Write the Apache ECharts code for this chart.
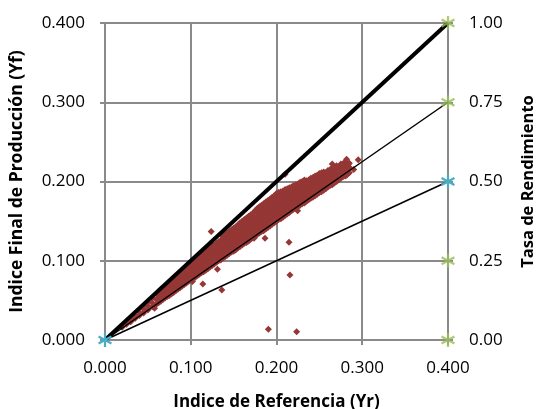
<!DOCTYPE html>
<html>
<head>
<meta charset="utf-8">
<script src="https://cdn.jsdelivr.net/npm/echarts@6/dist/echarts.min.js"></script>
<style>
html,body{margin:0;padding:0;background:#fff;}
#chart{width:540px;height:409px;}
</style>
</head>
<body>
<div id="chart"></div>
<script>
// ---- data ----
const xTicks = [0.0, 0.1, 0.2, 0.3, 0.4];
const leftTicks = [0.0, 0.1, 0.2, 0.3, 0.4];
const rightTicks = [0.0, 0.25, 0.5, 0.75, 1.0];

// measured points grouped by Yr value: [Yr, [Yf ...]]
const bandRows = [
  [0.020, [0.016]],
  [0.025, [0.020]],
  [0.030, [0.023, 0.027]],
  [0.035, [0.027, 0.031]],
  [0.040, [0.031, 0.035]],
  [0.045, [0.034, 0.039, 0.043]],
  [0.050, [0.038, 0.043, 0.048]],
  [0.055, [0.042, 0.047, 0.053]],
  [0.060, [0.045, 0.051, 0.058]],
  [0.065, [0.049, 0.055, 0.061, 0.064]],
  [0.070, [0.053, 0.058, 0.064, 0.068]],
  [0.075, [0.056, 0.062, 0.068, 0.073]],
  [0.080, [0.060, 0.066, 0.072, 0.078]],
  [0.085, [0.064, 0.070, 0.076, 0.083]],
  [0.090, [0.068, 0.074, 0.080, 0.087]],
  [0.095, [0.072, 0.078, 0.084, 0.091]],
  [0.100, [0.076, 0.081, 0.087, 0.093, 0.098]],
  [0.105, [0.079, 0.085, 0.091, 0.097, 0.102]],
  [0.110, [0.083, 0.088, 0.094, 0.100, 0.106]],
  [0.115, [0.086, 0.092, 0.098, 0.104, 0.110]],
  [0.120, [0.090, 0.096, 0.102, 0.108, 0.114]],
  [0.125, [0.094, 0.099, 0.105, 0.111, 0.119]],
  [0.130, [0.098, 0.103, 0.109, 0.115, 0.122]],
  [0.135, [0.101, 0.107, 0.113, 0.119, 0.126]],
  [0.140, [0.105, 0.110, 0.116, 0.122, 0.128, 0.133]],
  [0.145, [0.109, 0.114, 0.120, 0.126, 0.132, 0.137]],
  [0.150, [0.112, 0.118, 0.124, 0.130, 0.136, 0.141]],
  [0.155, [0.116, 0.122, 0.128, 0.134, 0.140, 0.145]],
  [0.160, [0.120, 0.125, 0.131, 0.137, 0.143, 0.150]],
  [0.165, [0.123, 0.129, 0.135, 0.141, 0.147, 0.154]],
  [0.170, [0.127, 0.133, 0.139, 0.145, 0.151, 0.158]],
  [0.175, [0.131, 0.136, 0.142, 0.148, 0.155, 0.163]],
  [0.180, [0.135, 0.140, 0.146, 0.152, 0.158, 0.164, 0.168]],
  [0.185, [0.138, 0.144, 0.150, 0.156, 0.162, 0.168, 0.172]],
  [0.190, [0.142, 0.147, 0.153, 0.159, 0.165, 0.171, 0.176]],
  [0.195, [0.146, 0.151, 0.157, 0.163, 0.169, 0.175, 0.180]],
  [0.200, [0.150, 0.155, 0.161, 0.167, 0.173, 0.179, 0.185]],
  [0.205, [0.153, 0.159, 0.165, 0.171, 0.177, 0.183, 0.187]],
  [0.210, [0.157, 0.162, 0.168, 0.174, 0.180, 0.185, 0.190]],
  [0.215, [0.161, 0.166, 0.172, 0.178, 0.183, 0.188, 0.192]],
  [0.220, [0.165, 0.170, 0.175, 0.181, 0.186, 0.191, 0.195]],
  [0.225, [0.168, 0.173, 0.179, 0.184, 0.189, 0.194, 0.197]],
  [0.230, [0.172, 0.177, 0.182, 0.187, 0.192, 0.197, 0.200]],
  [0.235, [0.175, 0.180, 0.186, 0.191, 0.196, 0.201]],
  [0.240, [0.179, 0.184, 0.189, 0.194, 0.199, 0.204]],
  [0.245, [0.182, 0.187, 0.192, 0.197, 0.202, 0.207]],
  [0.250, [0.186, 0.191, 0.196, 0.201, 0.206, 0.210]],
  [0.255, [0.189, 0.194, 0.199, 0.204, 0.209, 0.212]],
  [0.260, [0.193, 0.198, 0.203, 0.208, 0.214]],
  [0.265, [0.196, 0.201, 0.206, 0.211, 0.217]],
  [0.270, [0.200, 0.205, 0.210, 0.215, 0.220]],
  [0.275, [0.204, 0.210, 0.216, 0.222]],
  [0.280, [0.207, 0.213, 0.219, 0.225]],
  [0.285, [0.211, 0.218, 0.223]],
  [0.290, [0.215]]
];

// second pass of measured points between the rows above
const bandRowsMid = [
  [0.0625, [0.047, 0.053, 0.060]],
  [0.0675, [0.051, 0.057, 0.063]],
  [0.0725, [0.055, 0.060, 0.066, 0.070]],
  [0.0775, [0.058, 0.064, 0.070, 0.075]],
  [0.0825, [0.062, 0.068, 0.074, 0.080]],
  [0.0875, [0.066, 0.072, 0.078, 0.085]],
  [0.0925, [0.070, 0.076, 0.082, 0.089]],
  [0.0975, [0.074, 0.079, 0.085, 0.092, 0.096]],
  [0.1025, [0.078, 0.083, 0.089, 0.095, 0.100]],
  [0.1075, [0.081, 0.087, 0.093, 0.099, 0.104]],
  [0.1125, [0.085, 0.090, 0.096, 0.102, 0.108]],
  [0.1175, [0.088, 0.094, 0.100, 0.106, 0.112]],
  [0.1225, [0.092, 0.098, 0.104, 0.110, 0.116]],
  [0.1275, [0.096, 0.101, 0.107, 0.113, 0.120]],
  [0.1325, [0.100, 0.105, 0.111, 0.117, 0.124]],
  [0.1375, [0.103, 0.109, 0.115, 0.121, 0.127, 0.131]],
  [0.1425, [0.107, 0.112, 0.118, 0.124, 0.130, 0.135]],
  [0.1475, [0.111, 0.116, 0.122, 0.128, 0.134, 0.139]],
  [0.1525, [0.114, 0.120, 0.126, 0.132, 0.138, 0.143]],
  [0.1575, [0.118, 0.124, 0.130, 0.136, 0.142, 0.148]],
  [0.1625, [0.122, 0.127, 0.133, 0.139, 0.145, 0.152]],
  [0.1675, [0.125, 0.131, 0.137, 0.143, 0.149, 0.156]],
  [0.1725, [0.129, 0.135, 0.141, 0.147, 0.153, 0.160]],
  [0.1775, [0.133, 0.138, 0.144, 0.150, 0.156, 0.162, 0.166]],
  [0.1825, [0.137, 0.142, 0.148, 0.154, 0.160, 0.166, 0.170]],
  [0.1875, [0.140, 0.145, 0.151, 0.157, 0.163, 0.169, 0.174]],
  [0.1925, [0.144, 0.149, 0.155, 0.161, 0.167, 0.173, 0.178]],
  [0.1975, [0.148, 0.153, 0.159, 0.165, 0.171, 0.177, 0.182]],
  [0.2025, [0.152, 0.157, 0.163, 0.169, 0.175, 0.181, 0.186]],
  [0.2075, [0.155, 0.160, 0.166, 0.172, 0.178, 0.184, 0.188]],
  [0.2125, [0.159, 0.164, 0.170, 0.176, 0.181, 0.186, 0.191]],
  [0.2175, [0.163, 0.168, 0.173, 0.179, 0.184, 0.189, 0.193]],
  [0.2225, [0.166, 0.171, 0.177, 0.182, 0.187, 0.192, 0.196]],
  [0.2275, [0.170, 0.175, 0.180, 0.185, 0.190, 0.195, 0.199]],
  [0.2325, [0.173, 0.178, 0.184, 0.189, 0.194, 0.199, 0.202]],
  [0.2375, [0.177, 0.182, 0.187, 0.192, 0.197, 0.202]],
  [0.2425, [0.180, 0.185, 0.190, 0.195, 0.200, 0.205]],
  [0.2475, [0.184, 0.189, 0.194, 0.199, 0.204, 0.208]],
  [0.2525, [0.187, 0.192, 0.197, 0.202, 0.207, 0.211]],
  [0.2575, [0.191, 0.196, 0.201, 0.206, 0.211]],
  [0.2625, [0.195, 0.200, 0.205, 0.210, 0.215]],
  [0.2675, [0.198, 0.203, 0.208, 0.213, 0.218]],
  [0.2725, [0.202, 0.207, 0.212, 0.218]],
  [0.2775, [0.206, 0.211, 0.217, 0.222]],
  [0.2825, [0.209, 0.215, 0.221]]
];

// isolated points
const outlierPoints = [
  [0.1905, 0.0135], [0.2235, 0.0105], [0.2157, 0.0821], [0.2146, 0.1234],
  [0.1362, 0.0632], [0.1311, 0.0893], [0.1141, 0.0707], [0.1238, 0.1368],
  [0.0578, 0.0400], [0.1020, 0.0737], [0.1866, 0.1284], [0.1738, 0.1284],
  [0.2246, 0.1630], [0.2953, 0.2274], [0.2817, 0.2282], [0.2836, 0.2220],
  [0.2817, 0.2080], [0.2650, 0.2220], [0.2100, 0.2090], [0.1517, 0.1137]
];

// performance-ratio reference lines (right axis units)
const prLine100 = [[0, 0], [0.4, 1.00]];
const prLine75 = [[0, 0], [0.4, 0.75]];
const prLine50 = [[0, 0], [0.4, 0.50]];
const greenMarks = [[0.4, 1.00], [0.4, 0.75], [0.4, 0.25], [0.4, 0.00]];

// ---- build chart ----
const scatterData = [];
bandRows.forEach(r => r[1].forEach(y => scatterData.push([r[0], y])));
bandRowsMid.forEach(r => r[1].forEach(y => scatterData.push([r[0], y])));
outlierPoints.forEach(p => scatterData.push(p));

const FONT = 'Open Sans';
const GRID = '#8a8a8a';
const star = 'path://M8.5,0 L11.5,0 L11.5,20 L8.5,20 Z M2.09,3.7 L19.41,13.7 L17.91,16.3 L0.59,6.3 Z M0.59,13.7 L17.91,3.7 L19.41,6.3 L2.09,16.3 Z';

const chart = echarts.init(document.getElementById('chart'), null, {renderer: 'canvas'});
chart.setOption({
  animation: false,
  backgroundColor: '#fff',
  grid: {left: 105, right: 92, top: 23, bottom: 69, containLabel: false, outerBoundsMode: 'none'},
  xAxis: {
    type: 'value', min: 0, max: 0.4, interval: 0.1,
    name: 'Indice de Referencia (Yr)', nameLocation: 'middle', nameGap: 54,
    nameTextStyle: {fontFamily: FONT, fontSize: 17, fontWeight: 'bold', color: '#000'},
    axisLine: {show: true, lineStyle: {color: GRID, width: 2}},
    axisTick: {show: true, length: 5, lineStyle: {color: GRID, width: 2}},
    axisLabel: {fontFamily: FONT, fontSize: 17, color: '#000', margin: 20, formatter: v => v.toFixed(3)},
    splitLine: {show: true, lineStyle: {color: GRID, width: 2}}
  },
  yAxis: [{
    type: 'value', min: 0, max: 0.4, interval: 0.1, position: 'left',
    name: 'Indice Final de Producción (Yf)', nameLocation: 'middle', nameGap: 79, nameRotate: 90,
    nameTextStyle: {fontFamily: FONT, fontSize: 17.5, fontWeight: 'bold', color: '#000'},
    axisLine: {show: true, lineStyle: {color: GRID, width: 2}},
    axisTick: {show: true, length: 5, lineStyle: {color: GRID, width: 2}},
    axisLabel: {fontFamily: FONT, fontSize: 17, color: '#000', margin: 20, formatter: v => v.toFixed(3)},
    splitLine: {show: true, lineStyle: {color: GRID, width: 2}}
  }, {
    type: 'value', min: 0, max: 1, interval: 0.25, position: 'right',
    name: 'Tasa de Rendimiento', nameLocation: 'middle', nameGap: 72, nameRotate: 90,
    nameTextStyle: {fontFamily: FONT, fontSize: 16.5, fontWeight: 'bold', color: '#000'},
    axisLine: {show: true, lineStyle: {color: GRID, width: 2}},
    axisTick: {show: true, length: 5, lineStyle: {color: GRID, width: 2}},
    axisLabel: {fontFamily: FONT, fontSize: 17, color: '#000', margin: 21, formatter: v => v.toFixed(2)},
    splitLine: {show: false}
  }],
  series: [
    {type: 'scatter', xAxisIndex: 0, yAxisIndex: 0, data: scatterData,
     symbol: 'diamond', symbolSize: 7, itemStyle: {color: '#953735', opacity: 1}, z: 2},
    {type: 'line', yAxisIndex: 1, data: prLine100, showSymbol: false, symbol: 'none',
     lineStyle: {color: '#000', width: 4}, z: 3},
    {type: 'line', yAxisIndex: 1, data: prLine75, showSymbol: false, symbol: 'none',
     lineStyle: {color: '#000', width: 1.5}, z: 3},
    {type: 'line', yAxisIndex: 1, data: prLine50, showSymbol: true, symbol: star, symbolSize: 14,
     itemStyle: {color: '#4BACC6'}, lineStyle: {color: '#000', width: 1.5}, z: 4},
    {type: 'scatter', yAxisIndex: 1, data: greenMarks, symbol: star, symbolSize: 14,
     itemStyle: {color: '#9BBB59'}, z: 5}
  ]
});
</script>
</body>
</html>
